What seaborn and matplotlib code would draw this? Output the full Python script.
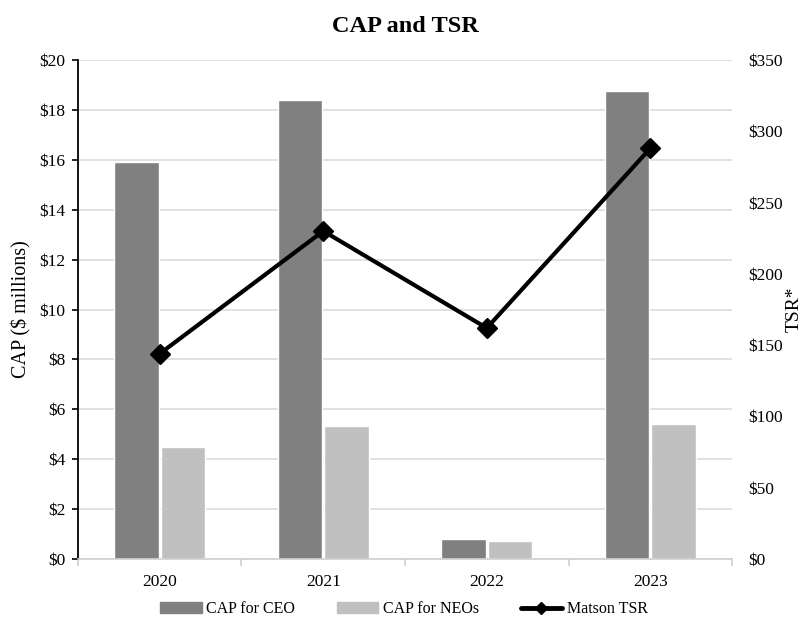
import numpy as np
import pandas as pd
import matplotlib
matplotlib.use('Agg')
import matplotlib.pyplot as plt
import seaborn as sns
from matplotlib.lines import Line2D
from matplotlib.ticker import FuncFormatter, FixedLocator

# Данные
years = ['2020', '2021', '2022', '2023']
cap_ceo = [15.9, 18.4, 0.8, 18.75]
cap_neo = [4.5, 5.35, 0.74, 5.4]
tsr = [144, 230, 162, 288]
series_names = ['CAP for CEO', 'CAP for NEOs']
bar_colors = ['#808080', '#c0c0c0']

df = pd.DataFrame({
    'year': years * 2,
    'value': cap_ceo + cap_neo,
    'series': [series_names[0]] * len(years) + [series_names[1]] * len(years),
})

sns.set_style('white')
plt.rcParams['font.family'] = ['Liberation Serif', 'DejaVu Serif']
plt.rcParams['text.color'] = 'black'
plt.rcParams['axes.labelcolor'] = 'black'
plt.rcParams['xtick.color'] = 'black'
plt.rcParams['ytick.color'] = 'black'

fig = plt.figure(figsize=(8.08, 6.24), dpi=100)
ax = fig.add_axes([0.0965, 0.104, 0.8095, 0.8])

sns.barplot(data=df, x='year', y='value', hue='series', palette=bar_colors,
            width=0.57, gap=0.04, ax=ax, legend=False, saturation=1)
ax.set_ylim(0, 20)
ax.set_yticks(np.arange(0, 21, 2))
ax.yaxis.set_major_formatter(FuncFormatter(lambda v, p: '\\$%d' % v))
ax.grid(axis='y', color='#dcdcdc', linewidth=1.2)
ax.set_axisbelow(True)
ax.set_xlim(-0.5, 3.5)
ax.set_xlabel('')
ax.set_ylabel('CAP (\\$ millions)', fontsize=14.5, labelpad=6)

for s in ['top', 'right']:
    ax.spines[s].set_visible(False)
ax.spines['left'].set_color('black')
ax.spines['left'].set_linewidth(1.3)
ax.spines['bottom'].set_color('#d0d0d0')
ax.spines['bottom'].set_linewidth(1.2)
ax.tick_params(axis='y', left=True, length=4, width=1.2, color='black',
               labelsize=12.5, pad=5)
ax.tick_params(axis='x', bottom=False, labelsize=12.5, pad=7)
ax.xaxis.set_minor_locator(FixedLocator(np.arange(-0.5, 4, 1)))
ax.tick_params(axis='x', which='minor', bottom=True, length=5,
               color='#d0d0d0', width=1.2)

# Правая ось: TSR
ax2 = ax.twinx()
ax2.plot(range(len(years)), tsr, color='black', linewidth=3,
         marker='D', markersize=10, zorder=5)
ax2.set_ylim(0, 350)
ax2.set_yticks(np.arange(0, 351, 50))
ax2.yaxis.set_major_formatter(FuncFormatter(lambda v, p: '\\$%d' % v))
ax2.tick_params(axis='y', right=False, labelsize=12.5, pad=8)
for s in ax2.spines.values():
    s.set_visible(False)
ax2.set_ylabel('TSR*', fontsize=14, labelpad=2)

ax.set_title('CAP and TSR', fontsize=17.5, fontweight='bold', pad=20)

handles = [plt.Rectangle((0, 0), 1, 1, color=c) for c in bar_colors]
handles.append(Line2D([0], [0], color='black', linewidth=3.5, marker='D',
                      markersize=6))
fig.legend(handles, series_names + ['Matson TSR'], loc='lower center',
           bbox_to_anchor=(0.5, -0.012), ncol=3, frameon=False, fontsize=11.5,
           handlelength=2.6, handletextpad=0.3, columnspacing=2.6)

fig.savefig('out.png', dpi=100)
